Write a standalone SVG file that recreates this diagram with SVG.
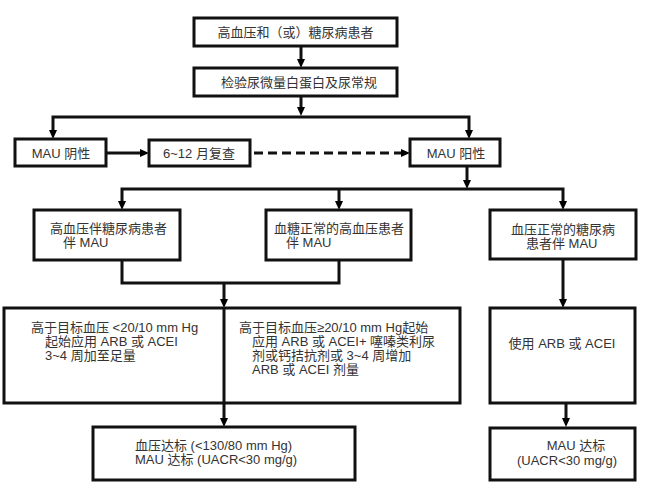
<svg xmlns="http://www.w3.org/2000/svg" width="646" height="487" viewBox="0 0 646 487">
<defs>
<marker id="ah" markerUnits="userSpaceOnUse" markerWidth="10" markerHeight="9" refX="3" refY="4" orient="auto">
<path d="M0,0 L9,4 L0,8 z" fill="#000"/>
</marker>
<style>
.box{fill:#fff;stroke:#111;stroke-width:3}
.ln{fill:none;stroke:#111;stroke-width:3}
.ar{fill:none;stroke:#111;stroke-width:3;marker-end:url(#ah)}
.dash{stroke-dasharray:9 5}
text{font-family:"Liberation Sans","Noto Sans CJK SC",sans-serif;font-size:13px;fill:#333}
.c{text-anchor:middle}
</style>
</defs>
<rect width="646" height="487" fill="#fff"/>
<g id="connectors">
<path class="ar" d="M301,46 V62"/>
<path class="ar" d="M301,96 V110"/>
<path class="ar" d="M301,117 H53 V133"/>
<path class="ar" d="M301,117 H469 V133"/>
<path class="ar" d="M106,153 H143"/>
<path class="ar dash" d="M254,153 H404"/>
<path class="ar" d="M467,166 V183"/>
<path class="ar" d="M467,189 H122 V204"/>
<path class="ar" d="M339,189 V204"/>
<path class="ar" d="M467,189 H563 V204"/>
<path class="ln" d="M122,260 V283 H339 V260"/>
<path class="ar" d="M224,283 V302"/>
<path class="ar" d="M224,403 V421"/>
<path class="ar" d="M563,259 V302"/>
<path class="ar" d="M566,403 V421"/>
</g>
<g id="n1"><rect class="box" x="194" y="18" width="203" height="28"/><text class="c" x="295.5" y="37">高血压和（或）糖尿病患者</text></g>
<g id="n2"><rect class="box" x="194" y="68" width="203" height="28"/><text class="c" x="299" y="87">检验尿微量白蛋白及尿常规</text></g>
<g id="n3"><rect class="box" x="15" y="139" width="91" height="27"/><text class="c" x="61" y="158">MAU 阴性</text></g>
<g id="n4"><rect class="box" x="149" y="140" width="101" height="26"/><text class="c" x="199" y="158">6~12 月复查</text></g>
<g id="n5"><rect class="box" x="410" y="139" width="90" height="27"/><text class="c" x="456" y="158">MAU 阳性</text></g>
<g id="n6"><rect class="box" x="34" y="210" width="146" height="50"/><text x="50" y="233">高血压伴糖尿病患者</text><text x="63" y="247">伴 MAU</text></g>
<g id="n7"><rect class="box" x="266" y="210" width="145" height="50"/><text x="274" y="233">血糖正常的高血压患者</text><text x="286" y="247">伴 MAU</text></g>
<g id="n8"><rect class="box" x="490" y="210" width="146" height="49"/><text x="511" y="234">血压正常的糖尿病</text><text x="526" y="248">患者伴 MAU</text></g>
<g id="n9"><rect class="box" x="4" y="308" width="456" height="95"/><path class="ln" d="M224,308 V403"/>
<text x="31" y="332">高于目标血压 &lt;20/10 mm Hg</text>
<text x="45" y="346">起始应用 ARB 或 ACEI</text>
<text x="45" y="360">3~4 周加至足量</text>
<text x="239" y="332">高于目标血压≥20/10 mm Hg起始</text>
<text x="252" y="346">应用 ARB 或 ACEI+ 噻嗪类利尿</text>
<text x="252" y="360">剂或钙拮抗剂或 3~4 周增加</text>
<text x="252" y="374">ARB 或 ACEI 剂量</text>
</g>
<g id="n10"><rect class="box" x="490" y="308" width="145" height="95"/><text class="c" x="562" y="348">使用 ARB 或 ACEI</text></g>
<g id="n11"><rect class="box" x="93" y="427" width="262" height="53"/><text x="135" y="450">血压达标 (&lt;130/80 mm Hg)</text><text x="135" y="464">MAU 达标 (UACR&lt;30 mg/g)</text></g>
<g id="n12"><rect class="box" x="490" y="428" width="145" height="52"/><text class="c" x="576" y="450">MAU 达标</text><text class="c" x="567" y="465">(UACR&lt;30 mg/g)</text></g>
</svg>
